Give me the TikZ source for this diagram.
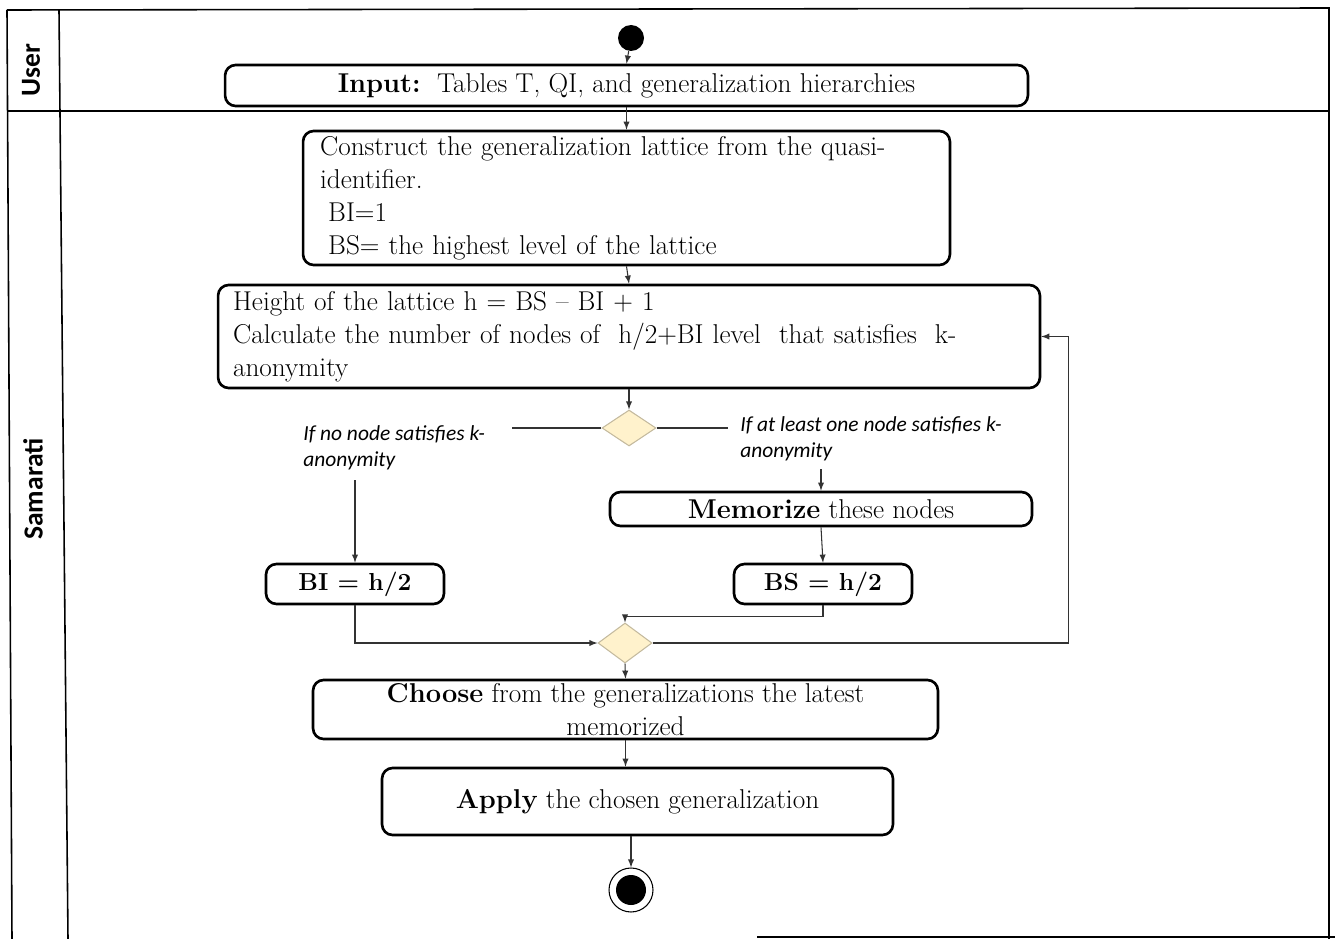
\documentclass[tikz,border=0pt]{standalone}
\usepackage{fontspec}
\newfontfamily\lanefont{Carlito}
\usepackage{tikz}
\usetikzlibrary{arrows, positioning, shapes.geometric}
\usepackage{xcolor}
\definecolor{decfill}{RGB}{255,242,204}
\definecolor{decline}{RGB}{196,186,158}

\begin{document}
\begin{tikzpicture}[x=0.02cm,y=-0.02cm,>=latex,font=\fontsize{15.5}{18.7}\selectfont]
  \tikzstyle{activity}=[draw,line width=1.5pt,rounded corners=6pt,inner sep=0pt]
  \tikzstyle{decision}=[diamond,draw=decline,fill=decfill,line width=0.6pt,inner sep=0pt]
  \tikzstyle{flow}=[draw=black!80,line width=0.6pt]
  \tikzstyle{guard}=[font=\lanefont\itshape\fontsize{12.2}{14.7}\selectfont,align=left,inner sep=0pt]
  \tikzstyle{lane}=[font=\lanefont\bfseries\fontsize{15.7}{17}\selectfont,rotate=90,inner sep=0pt]

  \useasboundingbox (0,0) rectangle (1335,939);

  % swimlanes
  \draw[line width=0.9pt] (7,10) -- (1329,8) -- (1329,939);
  \draw[line width=0.9pt] (7,10) -- (12,939);
  \draw[line width=0.9pt] (59,10) -- (68,939);
  \draw[line width=0.9pt] (7,111) -- (1329,111);
  \draw[line width=0.9pt] (757,937) -- (1335,937);
  \node[lane] (userLane) at (31,70) {User};
  \node[lane] (samLane)  at (33,489) {Samarati};

  % activities
  \node[circle,fill=black,minimum size=0.52cm,inner sep=0pt] (start) at (631,38) {};
  \node[activity,minimum width=16.06cm,minimum height=0.82cm] (input) at (626.5,85.5)
    {\textbf{Input:}\ \ Tables T, QI, and generalization hierarchies};
  \node[activity,text width=12.26cm,align=left,inner xsep=0.34cm,minimum height=2.68cm] (construct) at (626.5,198)
    {Construct the generalization lattice from the quasi-\\
     identifier.\\
     \hspace{0.3em}BI=1\\
     \hspace{0.3em}BS= the highest level of the lattice};
  \node[activity,text width=15.84cm,align=left,inner xsep=0.3cm,minimum height=2.06cm] (height) at (629,336.5)
    {Height of the lattice h = BS -- BI + 1\\
     Calculate the number of nodes of \ h/2+BI level \ that satisfies \ k-\\
     anonymity};
  \node[decision,minimum width=1.08cm,minimum height=0.72cm] (check) at (629,428) {};
  \node[guard,anchor=west] (noLbl) at (303,448) {If no node satisfies k-\\anonymity};
  \node[guard,anchor=west] (yesLbl) at (740,439) {If at least one node satisfies k-\\anonymity};
  \coordinate (noEnd) at (512,428);
  \coordinate (yesEnd) at (728,428);
  \node[activity,minimum width=8.44cm,minimum height=0.68cm] (memo) at (821,509)
    {\textbf{Memorize} these nodes};
  \node[activity,minimum width=3.56cm,minimum height=0.8cm,font=\fontsize{14}{16}\selectfont] (lowSet) at (355,584) {\textbf{BI = h/2}};
  \node[activity,minimum width=3.56cm,minimum height=0.8cm,font=\fontsize{14}{16}\selectfont] (highSet) at (823,584) {\textbf{BS = h/2}};
  \node[decision,minimum width=1.08cm,minimum height=0.8cm] (merge) at (625,643) {};
  \node[activity,minimum width=12.5cm,minimum height=1.18cm,align=center] (choose) at (625.5,709.5)
    {\textbf{Choose} from the generalizations the latest\\memorized};
  \node[activity,minimum width=10.22cm,minimum height=1.34cm] (apply) at (637.5,801.5)
    {\textbf{Apply} the chosen generalization};
  \node[circle,draw,line width=0.6pt,minimum size=0.88cm,inner sep=0pt] (finish) at (631,890) {};
  \node[circle,fill=black,minimum size=0.6cm,inner sep=0pt] (finishDot) at (finish) {};

  % flows
  \path[flow,->] (start) -- (input.north);
  \path[flow,->] (input.south) -- (construct.north);
  \path[flow,->] (construct.south) -- (height.north);
  \path[flow,->] (height.south) -- (check.north);
  \path[flow] (check.west) -- (noEnd);
  \path[flow] (check.east) -- (yesEnd);
  \path[flow,->] ([yshift=-0.2cm]noLbl.south -| lowSet.north) -- (lowSet.north);
  \path[flow,->] ([yshift=-0.16cm]yesLbl.south -| memo.north) -- (memo.north);
  \path[flow,->] (memo.south) -- (highSet.north);
  \path[flow,->] (lowSet.south) |- (merge.west);
  \path[flow,->] (highSet.south) -- ++(0,11) -| (merge.north);
  \path[flow,->] (merge.east) -- ++(416,0) |- (height.east);
  \path[flow,->] (merge.south) -- (choose.north);
  \path[flow,->] (choose.south) -- (choose.south |- apply.north);
  \path[flow,->] (apply.south -| finish.north) -- (finish.north);
\end{tikzpicture}
\end{document}
